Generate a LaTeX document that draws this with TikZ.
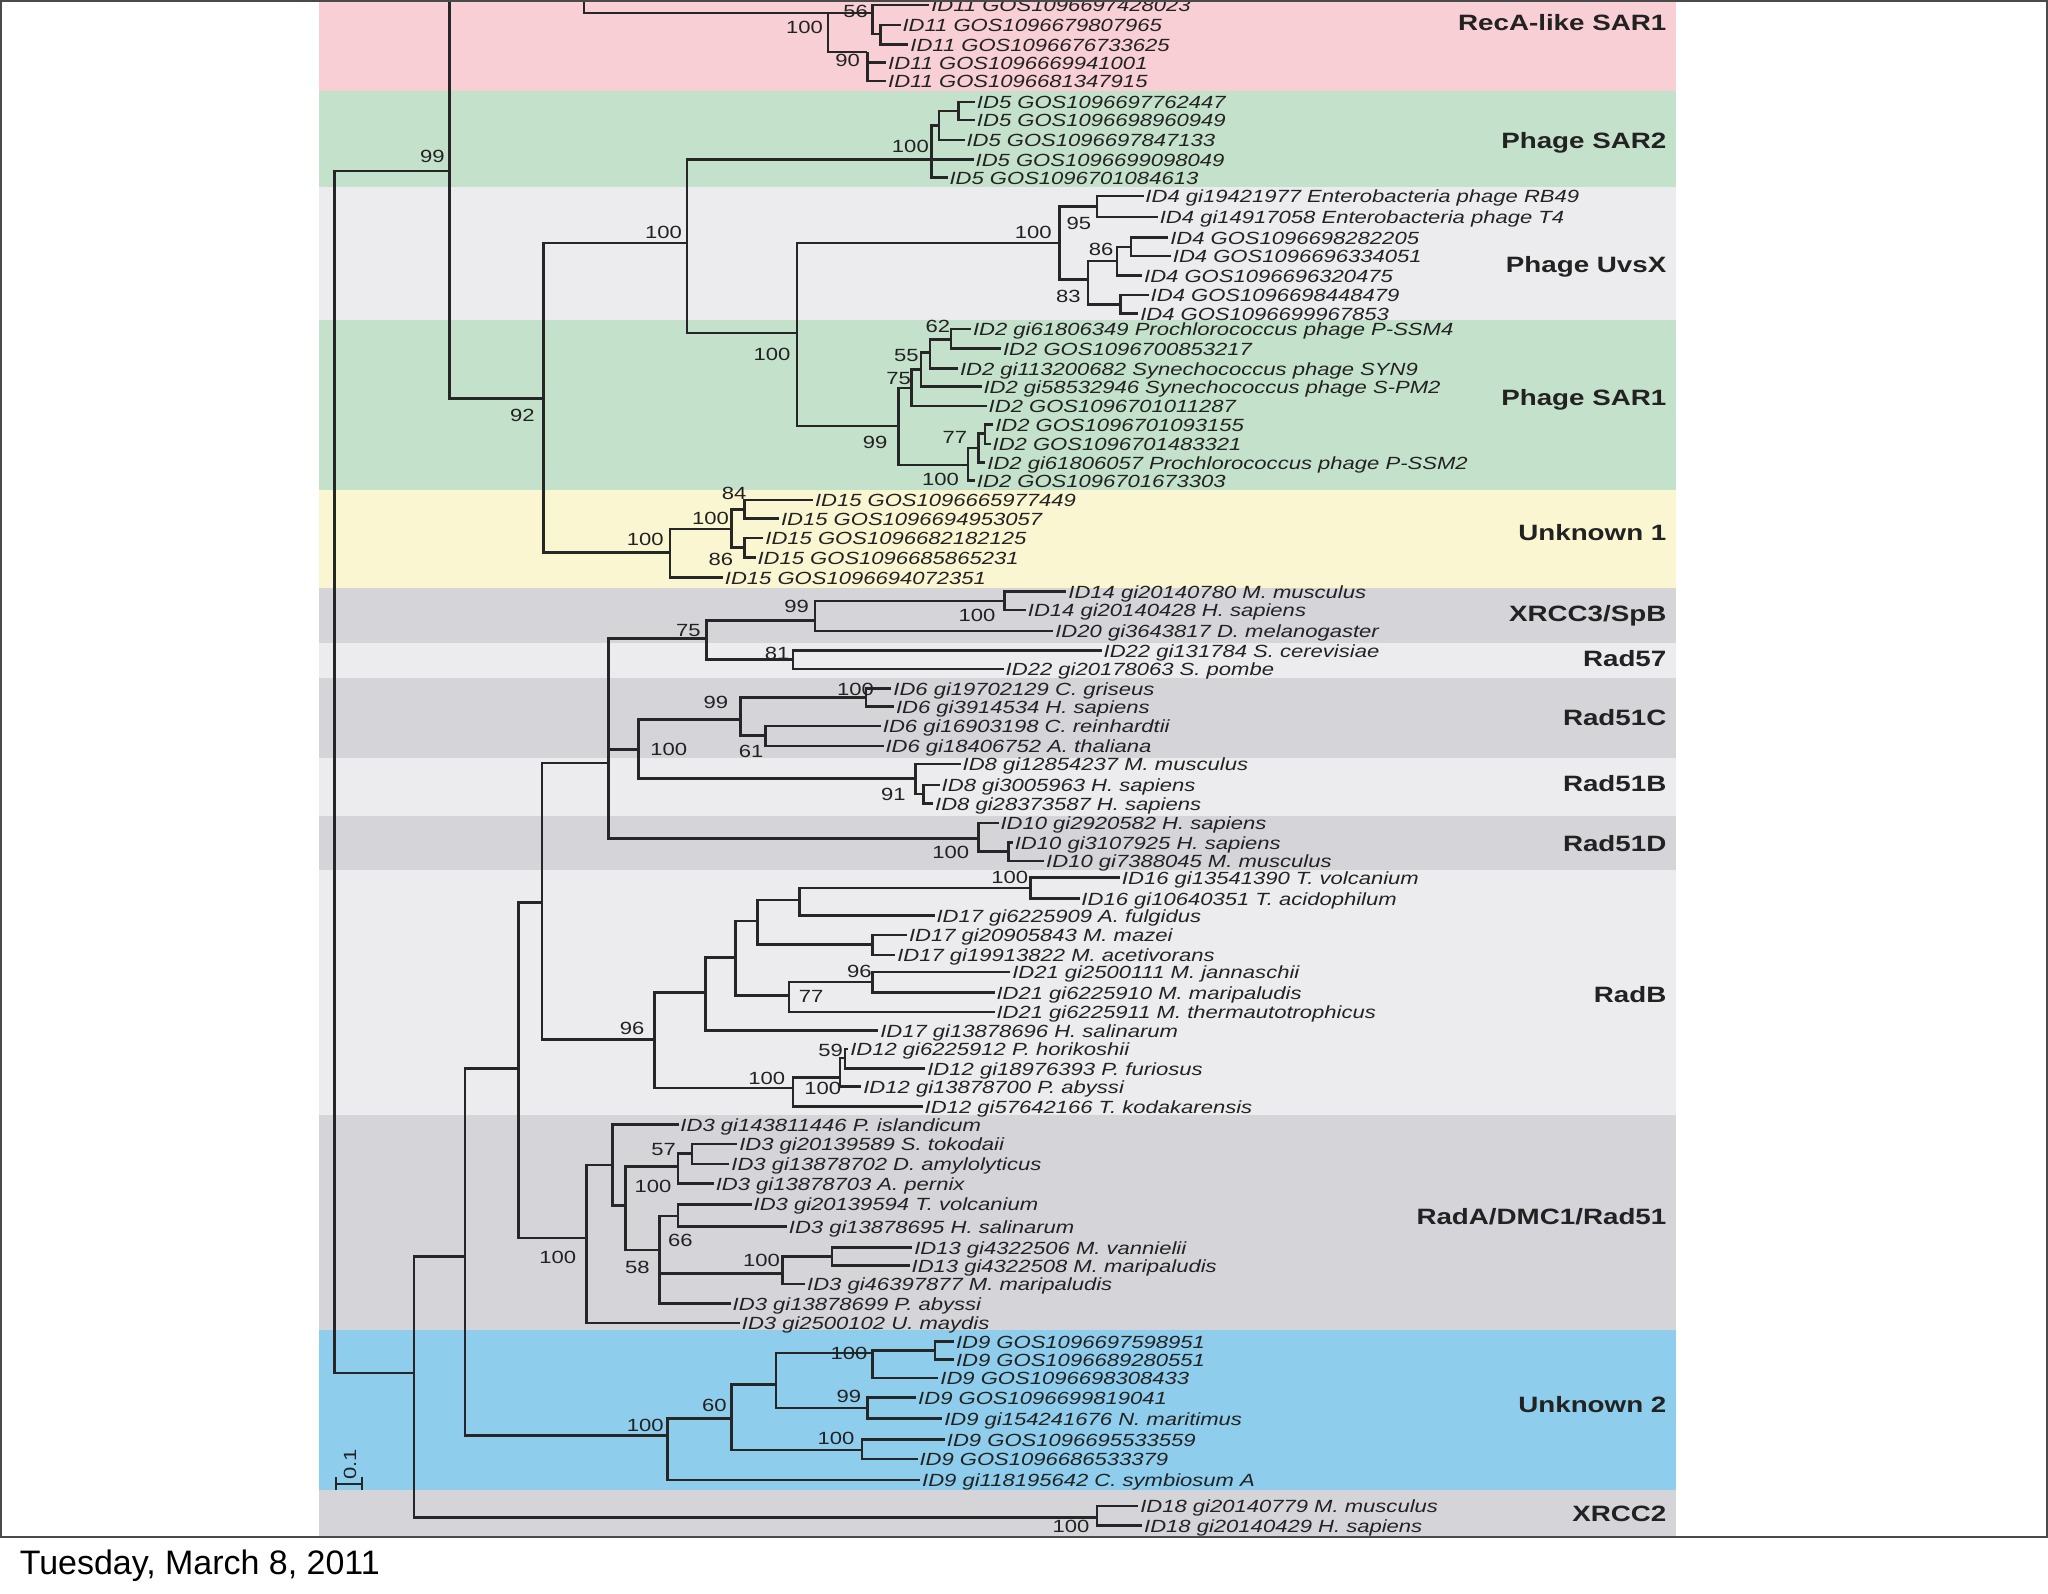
\documentclass[tikz,border=0pt]{standalone}
\usepackage{fontspec}
\newfontfamily\treefont[FakeStretch=1.25]{Liberation Sans}
\newfontfamily\datefont{Liberation Sans}
\definecolor{treeline}{HTML}{262626}
\definecolor{leaftext}{HTML}{222222}
\definecolor{bandpink}{HTML}{F8CFD5}
\definecolor{bandgreen}{HTML}{C4E2CB}
\definecolor{bandlight}{HTML}{ECECEE}
\definecolor{bandyellow}{HTML}{FBF6D2}
\definecolor{bandgray}{HTML}{D5D4D8}
\definecolor{bandblue}{HTML}{8FCDEC}
\definecolor{framecol}{HTML}{4A4A4A}
\newcommand\inode[4]{\coordinate (#1) at (#3,#4); \draw[br] (#2) |- (#1);}
\newcommand\leafn[5]{\node[leaf] (#1) at (#3,#4) {#5}; \coordinate (#1e) at (#3-1.5,#4); \draw[br] (#2) |- (#1e);}
\newcommand\bs[4]{\node[boot] (#1) at (#2,#3) {#4};}
\begin{document}
\begin{tikzpicture}[x=1pt,y=-1pt,
 br/.style={draw=treeline,line width=1.9pt},
 leaf/.style={anchor=mid west,yshift=-3pt,inner sep=0pt,outer sep=0pt,text=leaftext,font=\treefont\itshape\fontsize{13.5}{14}\selectfont},
 boot/.style={inner sep=0pt,text=leaftext,font=\treefont\fontsize{13.5}{14}\selectfont},
 clade/.style={anchor=mid east,yshift=-4.5pt,inner sep=0pt,text=leaftext,font=\treefont\bfseries\fontsize{17}{18}\selectfont},
]
\useasboundingbox (0,0) rectangle (1568,1220);
\fill[white] (0,0) rectangle (1568,1220);
% bands
\fill[bandpink]   (244,0)    rectangle (1283,70);
\fill[bandgreen]  (244,70)   rectangle (1283,143);
\fill[bandlight]  (244,143)  rectangle (1283,245);
\fill[bandgreen]  (244,245)  rectangle (1283,375);
\fill[bandyellow] (244,375)  rectangle (1283,450);
\fill[bandgray]   (244,450)  rectangle (1283,492);
\fill[bandlight]  (244,492)  rectangle (1283,519);
\fill[bandgray]   (244,519)  rectangle (1283,580);
\fill[bandlight]  (244,580)  rectangle (1283,625);
\fill[bandgray]   (244,625)  rectangle (1283,666);
\fill[bandlight]  (244,666)  rectangle (1283,854);
\fill[bandgray]   (244,854)  rectangle (1283,1018);
\fill[bandblue]   (244,1018) rectangle (1283,1141);
\fill[bandgray]   (244,1141) rectangle (1283,1177);

\begin{scope}
\clip (0,0) rectangle (1568,1177);
\coordinate (root) at (256,600);
% ---------- top clade
\inode{T}{root}{344}{131}
\inode{R0}{T}{447}{-15}
\inode{N100ra}{R0}{634}{10}
\inode{N56}{N100ra}{668}{10}
\leafn{l1}{N56}{713}{4}{ID11 GOS1096697428023}
\inode{N56b}{N56}{674}{26}
\leafn{l2}{N56b}{691}{19}{ID11 GOS1096679807965}
\leafn{l3}{N56b}{697}{34}{ID11 GOS1096676733625}
\inode{N90}{N100ra}{664}{40}
\leafn{l4}{N90}{680}{48}{ID11 GOS1096669941001}
\leafn{l5}{N90}{680}{62}{ID11 GOS1096681347915}

\inode{N92}{T}{416}{305}
\inode{N526}{N92}{526}{186}
\inode{S2}{N526}{713}{122}
\inode{S2a}{S2}{719}{96}
\inode{S2b}{S2a}{734}{85}
\leafn{l6}{S2b}{748}{78}{ID5 GOS1096697762447}
\leafn{l7}{S2b}{748}{92}{ID5 GOS1096698960949}
\leafn{l8}{S2a}{740}{107}{ID5 GOS1096697847133}
\leafn{l9}{S2}{747}{122}{ID5 GOS1096699098049}
\leafn{l10}{S2}{727}{136}{ID5 GOS1096701084613}

\inode{N610}{N526}{610}{255}
\inode{U}{N610}{811}{186}
\inode{N95}{U}{840}{158}
\leafn{l11}{N95}{877}{150}{ID4 gi19421977 Enterobacteria phage RB49}
\leafn{l12}{N95}{888}{166}{ID4 gi14917058 Enterobacteria phage T4}
\inode{N83}{U}{833}{214}
\inode{N86}{N83}{855}{200}
\inode{N86a}{N86}{866}{189}
\leafn{l13}{N86a}{896}{182}{ID4 GOS1096698282205}
\leafn{l14}{N86a}{898}{196}{ID4 GOS1096696334051}
\leafn{l15}{N86}{876}{211}{ID4 GOS1096696320475}
\inode{N83b}{N83}{858}{233}
\leafn{l16}{N83b}{881}{226}{ID4 GOS1096698448479}
\leafn{l17}{N83b}{873}{240}{ID4 GOS1096699967853}

\inode{P}{N610}{688}{326}
\inode{N75}{P}{698}{297}
\inode{Nb}{N75}{705}{283}
\inode{N55}{Nb}{712}{270}
\inode{N62}{N55}{728}{260}
\leafn{l18}{N62}{745}{252}{ID2 gi61806349 Prochlorococcus phage P-SSM4}
\leafn{l19}{N62}{768}{267}{ID2 GOS1096700853217}
\leafn{l20}{N55}{735}{282}{ID2 gi113200682 Synechococcus phage SYN9}
\leafn{l21}{Nb}{753}{296}{ID2 gi58532946 Synechococcus phage S-PM2}
\leafn{l22}{N75}{757}{311}{ID2 GOS1096701011287}
\inode{Nc}{P}{741}{356}
\inode{N77}{Nc}{749}{343}
\inode{N77a}{N77}{754}{332}
\leafn{l23}{N77a}{762}{325}{ID2 GOS1096701093155}
\leafn{l24}{N77a}{760}{340}{ID2 GOS1096701483321}
\leafn{l25}{N77}{756}{354}{ID2 gi61806057 Prochlorococcus phage P-SSM2}
\leafn{l26}{Nc}{748}{368}{ID2 GOS1096701673303}

\inode{U1}{N92}{513}{423}
\inode{N100b}{U1}{560}{405}
\inode{N84}{N100b}{570}{390}
\leafn{l27}{N84}{624}{383}{ID15 GOS1096665977449}
\leafn{l28}{N84}{598}{397}{ID15 GOS1096694953057}
\inode{N86u}{N100b}{570}{419}
\leafn{l29}{N86u}{586}{412}{ID15 GOS1096682182125}
\leafn{l30}{N86u}{580}{427}{ID15 GOS1096685865231}
\leafn{l31}{U1}{555}{442}{ID15 GOS1096694072351}

% ---------- bottom clade
\inode{B}{root}{317}{1051}
\inode{C}{B}{356}{962}
\inode{D}{C}{397}{818}
\inode{N415}{D}{415}{691}
\inode{N466}{N415}{466}{584}
\inode{N75x}{N466}{541}{489}
\inode{X3}{N75x}{624}{475}
\inode{N100x}{X3}{769}{460}
\leafn{l32}{N100x}{818}{453}{ID14 gi20140780 M. musculus}
\leafn{l33}{N100x}{787}{467}{ID14 gi20140428 H. sapiens}
\leafn{l34}{X3}{808}{483}{ID20 gi3643817 D. melanogaster}
\inode{R57}{N75x}{607}{505}
\leafn{l35}{R57}{845}{498}{ID22 gi131784 S. cerevisiae}
\leafn{l36}{R57}{770}{512}{ID22 gi20178063 S. pombe}
\inode{N489}{N466}{489}{574}
\inode{N99c}{N489}{567}{551}
\inode{N100c}{N99c}{663}{534}
\leafn{l37}{N100c}{684}{527}{ID6 gi19702129 C. griseus}
\leafn{l38}{N100c}{686}{541}{ID6 gi3914534 H. sapiens}
\inode{N61}{N99c}{586}{563}
\leafn{l39}{N61}{676}{556}{ID6 gi16903198 C. reinhardtii}
\leafn{l40}{N61}{678}{571}{ID6 gi18406752 A. thaliana}
\inode{R51B}{N489}{701}{596}
\leafn{l41}{R51B}{737}{585}{ID8 gi12854237 M. musculus}
\inode{N91}{R51B}{707}{608}
\leafn{l42}{N91}{721}{601}{ID8 gi3005963 H. sapiens}
\leafn{l43}{N91}{716}{615}{ID8 gi28373587 H. sapiens}
\inode{R51D}{N466}{749}{642}
\leafn{l44}{R51D}{766}{630}{ID10 gi2920582 H. sapiens}
\inode{N10b}{R51D}{772}{652}
\leafn{l45}{N10b}{777}{645}{ID10 gi3107925 H. sapiens}
\leafn{l46}{N10b}{801}{659}{ID10 gi7388045 M. musculus}

\inode{RadB}{N415}{501}{796}
\inode{N540}{RadB}{540}{760}
\inode{N563}{N540}{563}{733}
\inode{N580}{N563}{580}{705}
\inode{N612}{N580}{612}{689}
\inode{N100t}{N612}{789}{680}
\leafn{l47}{N100t}{859}{672}{ID16 gi13541390 T. volcanium}
\leafn{l48}{N100t}{828}{688}{ID16 gi10640351 T. acidophilum}
\leafn{l49}{N612}{717}{701}{ID17 gi6225909 A. fulgidus}
\inode{N668}{N580}{668}{723}
\leafn{l50}{N668}{696}{716}{ID17 gi20905843 M. mazei}
\leafn{l51}{N668}{687}{731}{ID17 gi19913822 M. acetivorans}
\inode{N604}{N563}{604}{762}
\inode{N96b}{N604}{668}{752}
\leafn{l52}{N96b}{775}{744}{ID21 gi2500111 M. jannaschii}
\leafn{l53}{N96b}{763}{760}{ID21 gi6225910 M. maripaludis}
\leafn{l54}{N604}{763}{775}{ID21 gi6225911 M. thermautotrophicus}
\leafn{l55}{N540}{674}{789}{ID17 gi13878696 H. salinarum}
\inode{N100r}{RadB}{607}{833}
\inode{N100s}{N100r}{643}{825}
\inode{N59}{N100s}{647}{810}
\leafn{l56}{N59}{651}{803}{ID12 gi6225912 P. horikoshii}
\leafn{l57}{N59}{710}{818}{ID12 gi18976393 P. furiosus}
\leafn{l58}{N100s}{661}{832}{ID12 gi13878700 P. abyssi}
\leafn{l59}{N100r}{708}{847}{ID12 gi57642166 T. kodakarensis}

\inode{RadA}{D}{449}{948}
\inode{N469}{RadA}{469}{892}
\leafn{l60}{N469}{521}{861}{ID3 gi143811446 P. islandicum}
\inode{N479}{N469}{479}{923}
\inode{N519}{N479}{519}{893}
\inode{N57}{N519}{530}{883}
\leafn{l61}{N57}{566}{876}{ID3 gi20139589 S. tokodaii}
\leafn{l62}{N57}{560}{891}{ID3 gi13878702 D. amylolyticus}
\leafn{l63}{N519}{548}{906}{ID3 gi13878703 A. pernix}
\inode{N505}{N479}{505}{957}
\inode{N66}{N505}{519}{931}
\leafn{l64}{N66}{577}{922}{ID3 gi20139594 T. volcanium}
\leafn{l65}{N66}{604}{939}{ID3 gi13878695 H. salinarum}
\inode{N599}{N505}{599}{975}
\inode{N13}{N599}{637}{962}
\leafn{l66}{N13}{700}{955}{ID13 gi4322506 M. vannielii}
\leafn{l67}{N13}{698}{969}{ID13 gi4322508 M. maripaludis}
\leafn{l68}{N599}{618}{983}{ID3 gi46397877 M. maripaludis}
\leafn{l69}{N505}{561}{998}{ID3 gi13878699 P. abyssi}
\leafn{l70}{RadA}{568}{1013}{ID3 gi2500102 U. maydis}

\inode{U2}{C}{511}{1099}
\inode{N60}{U2}{560}{1086}
\inode{N594}{N60}{594}{1060}
\inode{N100g}{N594}{668}{1036}
\inode{Ng}{N100g}{716}{1034}
\leafn{l71}{Ng}{732}{1027}{ID9 GOS1096697598951}
\leafn{l72}{Ng}{732}{1041}{ID9 GOS1096689280551}
\leafn{l73}{N100g}{720}{1055}{ID9 GOS1096698308433}
\inode{N99u}{N594}{664}{1078}
\leafn{l74}{N99u}{703}{1070}{ID9 GOS1096699819041}
\leafn{l75}{N99u}{723}{1086}{ID9 gi154241676 N. maritimus}
\inode{N100u}{N60}{660}{1110}
\leafn{l76}{N100u}{725}{1102}{ID9 GOS1096695533559}
\leafn{l77}{N100u}{704}{1117}{ID9 GOS1096686533379}
\leafn{l78}{U2}{706}{1133}{ID9 gi118195642 C. symbiosum A}

\inode{X2}{B}{840}{1162}
\leafn{l79}{X2}{873}{1153}{ID18 gi20140779 M. musculus}
\leafn{l80}{X2}{876}{1168}{ID18 gi20140429 H. sapiens}

% bootstrap values
\bs{b1}{655}{9}{56}
\bs{b2}{616}{21}{100}
\bs{b3}{649}{46}{90}
\bs{b4}{331}{120}{99}
\bs{b5}{697}{112}{100}
\bs{b6}{508}{178}{100}
\bs{b7}{791}{178}{100}
\bs{b8}{826}{171}{95}
\bs{b9}{843}{191}{86}
\bs{b10}{818}{227}{83}
\bs{b11}{718}{250}{62}
\bs{b12}{591}{271}{100}
\bs{b13}{694}{272}{55}
\bs{b14}{688}{290}{75}
\bs{b15}{400}{318}{92}
\bs{b16}{670}{339}{99}
\bs{b17}{731}{335}{77}
\bs{b18}{720}{367}{100}
\bs{b19}{562}{378}{84}
\bs{b20}{544}{397}{100}
\bs{b21}{494}{413}{100}
\bs{b22}{552}{428}{86}
\bs{b23}{610}{464}{99}
\bs{b24}{748}{471}{100}
\bs{b25}{527}{483}{75}
\bs{b26}{595}{500}{81}
\bs{b27}{655}{528}{100}
\bs{b28}{548}{538}{99}
\bs{b29}{512}{574}{100}
\bs{b30}{575}{575}{61}
\bs{b31}{684}{608}{91}
\bs{b32}{728}{653}{100}
\bs{b33}{773}{672}{100}
\bs{b34}{658}{744}{96}
\bs{b35}{621}{763}{77}
\bs{b36}{484}{787}{96}
\bs{b37}{636}{804}{59}
\bs{b38}{587}{826}{100}
\bs{b39}{630}{833}{100}
\bs{b40}{508}{880}{57}
\bs{b41}{500}{908}{100}
\bs{b42}{521}{950}{66}
\bs{b43}{427}{963}{100}
\bs{b44}{583}{965}{100}
\bs{b45}{488}{970}{58}
\bs{b46}{650}{1036}{100}
\bs{b47}{650}{1069}{99}
\bs{b48}{547}{1076}{60}
\bs{b49}{494}{1091}{100}
\bs{b50}{640}{1101}{100}
\bs{b51}{820}{1169}{100}
\end{scope}

% clade labels
\node[clade] (c1)  at (1276,17)   {RecA-like SAR1};
\node[clade] (c2)  at (1276,107)  {Phage SAR2};
\node[clade] (c3)  at (1276,202)  {Phage UvsX};
\node[clade] (c4)  at (1276,304)  {Phage SAR1};
\node[clade] (c5)  at (1276,407)  {Unknown 1};
\node[clade] (c6)  at (1276,469)  {XRCC3/SpB};
\node[clade] (c7)  at (1276,504)  {Rad57};
\node[clade] (c8)  at (1276,549)  {Rad51C};
\node[clade] (c9)  at (1276,599)  {Rad51B};
\node[clade] (c10) at (1276,645)  {Rad51D};
\node[clade] (c11) at (1276,761)  {RadB};
\node[clade] (c12) at (1276,931)  {RadA/DMC1/Rad51};
\node[clade] (c13) at (1276,1075) {Unknown 2};
\node[clade] (c14) at (1276,1158) {XRCC2};

% scale bar
\coordinate (sbl) at (257,1136);
\coordinate (sbr) at (277,1136);
\draw[treeline,line width=1.8pt] (sbl) -- (sbr);
\draw[treeline,line width=1.8pt] ([yshift=-5pt]sbl) -- ([yshift=5pt]sbl);
\draw[treeline,line width=1.8pt] ([yshift=-5pt]sbr) -- ([yshift=5pt]sbr);
\node[boot,rotate=90,font=\treefont\fontsize{13.5}{14}\selectfont] (sbt) at (268,1121) {0.1};

% frame
\draw[framecol,line width=1.6pt] (0.8,0.8) rectangle (1567.2,1177);

% date
\node[anchor=west,yshift=-3pt,inner sep=0pt,font=\datefont\fontsize{26}{28}\selectfont,text=black] (date) at (15,1196) {Tuesday, March 8, 2011};
\end{tikzpicture}
\end{document}
